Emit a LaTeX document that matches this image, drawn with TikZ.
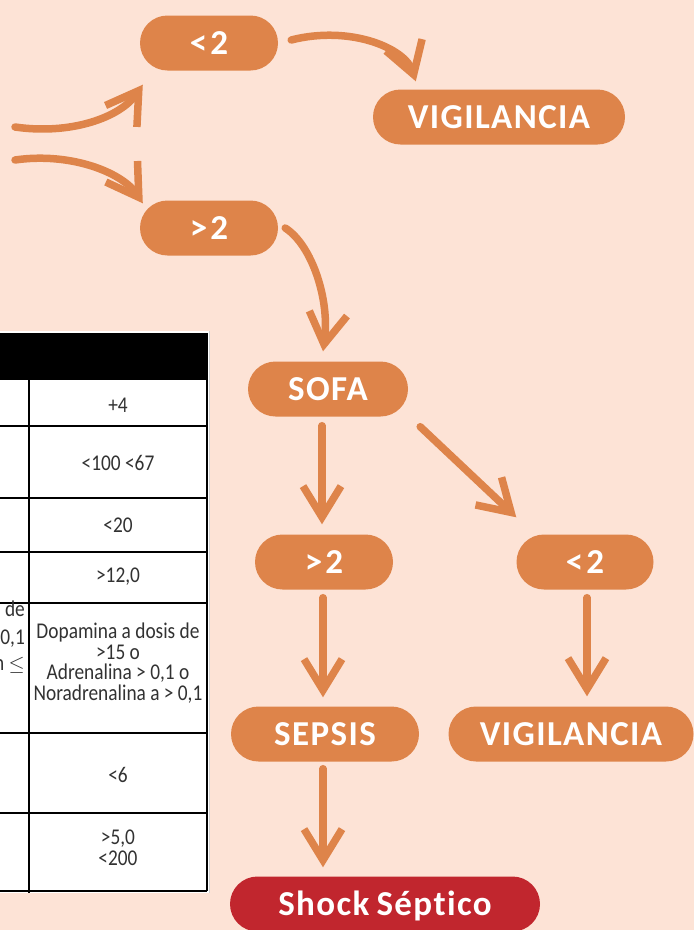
\documentclass[tikz,border=0pt]{standalone}
\usepackage{fontspec}
\setmainfont{Carlito}
\newfontfamily\pillfont{Carlito}[LetterSpace=4,Ligatures=NoCommon]
\newfontfamily\tablefont{Carlito}[FakeStretch=0.86]
\usetikzlibrary{arrows.meta}
\definecolor{bgc}{RGB}{253,227,214}
\definecolor{org}{RGB}{222,132,74}
\definecolor{shockred}{RGB}{193,38,46}
\definecolor{tgray}{RGB}{50,50,50}
\tikzset{
  pill/.style={rectangle, rounded corners=27.5pt, fill=org, minimum height=55pt, inner sep=0pt,
    text=white, font=\pillfont\bfseries\fontsize{35}{35}\selectfont, text height=22pt, text depth=0pt},
  brush/.style={draw=org, line width=7.5pt, line cap=round,
    -{Straight Barb[length=31pt,width=38pt,line width=7.5pt]}},
  cell/.style={text=tgray, font=\tablefont\fontsize{22.5}{20.5}\selectfont, align=center, inner sep=0pt},
  frag/.style={cell, anchor=east, text height=12pt, text depth=2pt},
  tline/.style={draw=black, line width=1.2pt},
}
\begin{document}
\begin{tikzpicture}[x=1pt,y=-1pt]
\useasboundingbox (0,0) rectangle (694,930);
\fill[bgc] (0,0) rectangle (694,930);

% table (partly visible)
\fill[white] (0,331) rectangle (210,893);
\draw[gray!35, line width=1pt] (209.5,331) -- (209.5,893);
\fill[black] (0,333) rectangle (207,380);
\foreach \yy in {426,498,552,603,733,813,891} {\draw[tline] (0,\yy) -- (207,\yy);}
\draw[tline] (29,380) -- (29,893);
\draw[tline] (207,333) -- (207,891);
\node[cell] (c1) at (118,405) {+4};
\node[cell] (c2) at (118,463) {<100 <67};
\node[cell] (c3) at (118,525) {<20};
\node[cell] (c4) at (118,577) {>12,0};
\node[cell] (c5) at (118,663) {Dopamina a dosis de\\>15 o\\Adrenalina > 0,1 o\\Noradrenalina a > 0,1};
\node[cell] (c6) at (118,775) {<6};
\node[cell] (c7) at (118,848) {>5,0\\<200};
\node[frag] (f1) at (25,611) {de};
\node[frag] (f2) at (25,639) {0,1};
\node[frag] (f3) at (25,665) {n $\leq$};

% nodes
\node[pill, minimum width=138pt] (lt2a) at (209,43) {<\kern3pt 2};
\node[pill, minimum width=252pt] (vig1) at (499,117) {VIGILANCIA};
\node[pill, minimum width=138pt] (gt2a) at (209,228) {>\kern3pt 2};
\node[pill, minimum width=160pt] (sofa) at (328,389) {SOFA};
\node[pill, minimum width=138pt] (gt2b) at (324,562) {>\kern3pt 2};
\node[pill, minimum width=137pt] (lt2b) at (585,562) {<\kern3pt 2};
\node[pill, minimum width=188pt] (sepsis) at (325,734) {SEPSIS};
\node[pill, minimum width=245pt] (vig2) at (571,734) {VIGILANCIA};
\node[pill, minimum width=310pt, fill=shockred] (shock) at (385,904) {Shock\kern7pt Séptico};

% arrows
\coordinate (s1) at (15,127);
\coordinate (s2) at (15,160);
\draw[brush] (s1) .. controls (70,135) and (120,118) .. ([shift={(3,14)}]lt2a.south west);
\draw[brush] (s2) .. controls (70,152) and (122,172) .. ([shift={(3,3)}]gt2a.north west);
\draw[brush] ([shift={(13,-3)}]lt2a.east) .. controls (350,25) and (405,48) .. ([shift={(43,-8)}]vig1.north west);
\draw[brush] ([shift={(7,0)}]gt2a.east) .. controls (312,245) and (330,300) .. ([shift={(-5,-10)}]sofa.north);
\draw[brush] ([shift={(-6,9)}]sofa.south) -- ([shift={(-2,-10)}]gt2b.north);
\draw[brush] ([shift={(12,10)}]sofa.south east) -- ([shift={(0,-17)}]lt2b.north west);
\draw[brush] ([shift={(-1,8)}]gt2b.south) -- ([shift={(-2,-9)}]sepsis.north);
\draw[brush] ([shift={(2,8)}]lt2b.south) -- ([shift={(16,-10)}]vig2.north);
\draw[brush] ([shift={(-2,7)}]sepsis.south) -- ([shift={(-62,-9)}]shock.north);
\end{tikzpicture}
\end{document}
